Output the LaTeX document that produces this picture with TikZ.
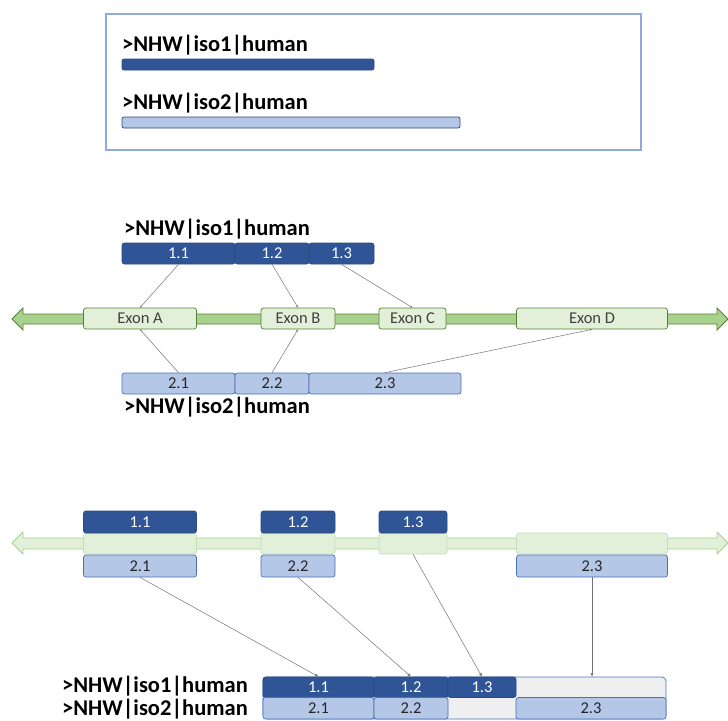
\documentclass[tikz,border=0pt]{standalone}
\usepackage{fontspec}
\setmainfont{Carlito}
\usetikzlibrary{arrows.meta}
\definecolor{dkblue}{HTML}{2F5597}
\definecolor{dkedge}{HTML}{2A4A80}
\definecolor{ltblue}{HTML}{B4C7E7}
\definecolor{ltedge}{HTML}{4A70B8}
\definecolor{frameblue}{HTML}{8FAADC}
\definecolor{shaft}{HTML}{A9D18E}
\definecolor{shaftedge}{HTML}{548235}
\definecolor{exfill}{HTML}{E2F0D9}
\definecolor{exfaint}{HTML}{C5E0B4}
\definecolor{restgray}{HTML}{EFEFEF}
\tikzset{
  box/.style={rectangle, rounded corners=2.5pt, inner sep=0pt, line width=0.7pt,
    font=\fontsize{16.5}{18}\selectfont},
  dk/.style={box, fill=dkblue, draw=dkedge, text=white},
  lt/.style={box, fill=ltblue, draw=ltedge, text=black!85},
  exon/.style={box, fill=exfill, draw=shaftedge, text=black!75},
  faintexon/.style={box, fill=exfill, draw=exfaint},
  title/.style={inner sep=0pt, font=\fontsize{22.5}{26}\selectfont\bfseries},
  conn/.style={draw=black!55, line width=0.5pt, -{Latex[length=2pt,width=2pt]}},
  conn2/.style={draw=black!55, line width=0.5pt, -{Latex[length=3.5pt,width=3pt]}}
}
\begin{document}
\begin{tikzpicture}[x=1pt, y=-1pt]
\useasboundingbox (0,0) rectangle (728,720);

% ---- overview panel: the two full-length isoforms
\node[draw=frameblue, line width=1.5pt, minimum width=535pt, minimum height=136pt, inner sep=0pt] (panel) at (373.5,82) {};
\node[title, anchor=base west] (t1) at (122,51) {>NHW|iso1|human};
\node[box, fill=dkblue, draw=dkedge, minimum width=252pt, minimum height=11pt, rounded corners=2pt] (bar1) at (248,64.5) {};
\node[title, anchor=base west] (t2) at (122,109) {>NHW|iso2|human};
\node[box, fill=ltblue, draw=dkedge, minimum width=338pt, minimum height=11pt, rounded corners=2pt] (bar2) at (291,122.5) {};

% ---- mapping of the isoform segments onto the gene
\fill[shaft, draw=shaftedge, line width=0.8pt]
  (12,319) -- (23,308) -- (23,314) -- (717,314) -- (717,308) -- (728,319)
  -- (717,330) -- (717,324) -- (23,324) -- (23,330) -- cycle;

\node[title, anchor=base west] (t3) at (124,235) {>NHW|iso1|human};
\node[dk, minimum width=113pt, minimum height=21pt] (a11) at (178.5,253.5) {1.1};
\node[dk, minimum width=74pt, minimum height=21pt] (a12) at (272,253.5) {1.2};
\node[dk, minimum width=65pt, minimum height=21pt] (a13) at (341.5,253.5) {1.3};

\node[exon, minimum width=113pt, minimum height=21pt] (exA) at (140,318.5) {Exon A};
\node[exon, minimum width=74pt, minimum height=21pt] (exB) at (298,318.5) {Exon B};
\node[exon, minimum width=67pt, minimum height=21pt] (exC) at (412.5,318.5) {Exon C};
\node[exon, minimum width=151pt, minimum height=21pt] (exD) at (592,318.5) {Exon D};

\node[lt, minimum width=113pt, minimum height=21pt] (b21) at (178.5,383.5) {2.1};
\node[lt, minimum width=74pt, minimum height=21pt] (b22) at (272,383.5) {2.2};
\node[lt, minimum width=152pt, minimum height=21pt] (b23) at (385,383.5) {2.3};
\node[title, anchor=base west] (t4) at (124,413) {>NHW|iso2|human};

\draw[conn] (a11.south) -- (exA.north);
\draw[conn] (a12.south) -- (exB.north);
\draw[conn] (a13.south) -- (exC.north);
\draw[conn] (b21.north) -- (exA.south);
\draw[conn] (b22.north) -- (exB.south);
\draw[conn] (b23.north) -- (exD.south);

% ---- segments stacked on their exons
\fill[exfill, draw=shaft, line width=0.8pt]
  (12,543) -- (23,532) -- (23,538) -- (717,538) -- (717,532) -- (728,543)
  -- (717,554) -- (717,549) -- (23,549) -- (23,554) -- cycle;

\node[faintexon, minimum width=113pt, minimum height=21pt] (fxA) at (140,543.5) {};
\node[faintexon, minimum width=74pt, minimum height=21pt] (fxB) at (298,543.5) {};
\node[faintexon, minimum width=68pt, minimum height=21pt] (fxC) at (413,543.5) {};
\node[faintexon, minimum width=151pt, minimum height=21pt] (fxD) at (592,543.5) {};

\node[dk, minimum width=113pt, minimum height=22pt] (c11) at (140,522) {1.1};
\node[dk, minimum width=74pt, minimum height=22pt] (c12) at (298,522) {1.2};
\node[dk, minimum width=68pt, minimum height=22pt] (c13) at (413,522) {1.3};

\node[lt, minimum width=113pt, minimum height=22pt] (d21) at (140,566) {2.1};
\node[lt, minimum width=74pt, minimum height=22pt] (d22) at (298,566) {2.2};
\node[lt, minimum width=151pt, minimum height=22pt] (d23) at (592,566) {2.3};

% ---- aligned isoforms
\node[box, fill=restgray, draw=ltedge, minimum width=403pt, minimum height=42pt, rounded corners=4pt] (rest) at (464.5,698) {};
\node[dk, minimum width=111pt, minimum height=20.5pt] (e11) at (318.5,687.25) {1.1};
\node[dk, minimum width=74pt, minimum height=20.5pt] (e12) at (411,687.25) {1.2};
\node[dk, minimum width=68pt, minimum height=20.5pt] (e13) at (482,687.25) {1.3};
\node[lt, minimum width=111pt, minimum height=21.5pt] (f21) at (318.5,708.25) {2.1};
\node[lt, minimum width=74pt, minimum height=21.5pt] (f22) at (411,708.25) {2.2};
\node[lt, minimum width=150pt, minimum height=21.5pt] (f23) at (591,708.25) {2.3};
\coordinate (r23) at (d23.south |- rest.north);

\node[title, anchor=base east] (t5) at (248,692) {>NHW|iso1|human};
\node[title, anchor=base east] (t6) at (248,715) {>NHW|iso2|human};

\draw[conn2] (d21.south) -- (e11.north);
\draw[conn2] (d22.south) -- (e12.north);
\draw[conn2] (fxC.south) -- (e13.north);
\draw[conn2] (d23.south) -- (r23);
\end{tikzpicture}
\end{document}
